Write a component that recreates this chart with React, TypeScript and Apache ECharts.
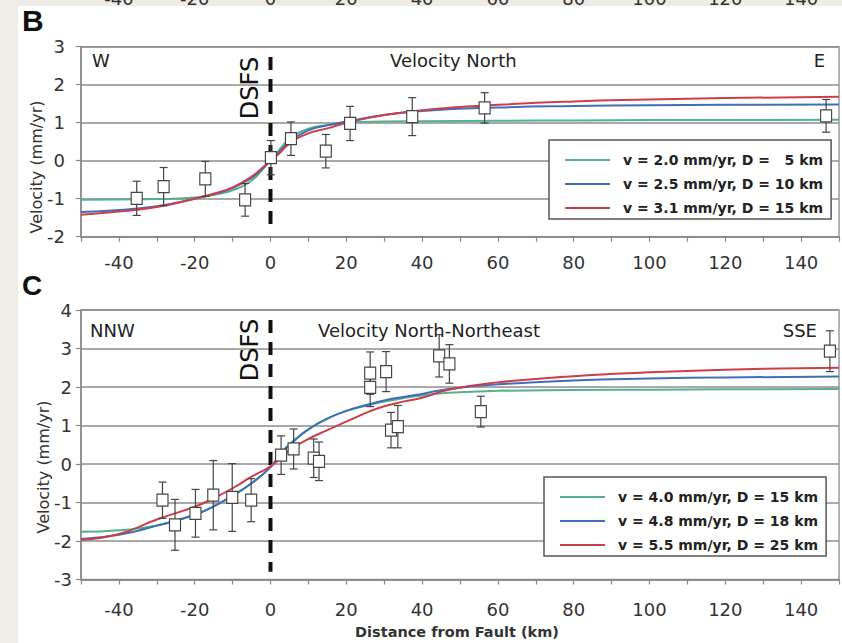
import React, { useEffect, useRef } from "react";
import * as echarts from "echarts";

// ---------- Panel B : Velocity North ----------
const bCurveX = [-50, -40, -30, -20, -15, -10, -5, -2, 0, 2, 5, 10, 15, 20, 30, 40, 60, 80, 100, 120, 150];
const bGreen = [-1.03, -1.02, -1.01, -0.97, -0.9, -0.78, -0.52, -0.22, 0.02, 0.25, 0.57, 0.84, 0.94, 1.0, 1.03, 1.04, 1.05, 1.06, 1.07, 1.07, 1.08];
const bBlue = [-1.35, -1.3, -1.2, -1.0, -0.88, -0.72, -0.45, -0.2, 0.0, 0.2, 0.5, 0.8, 0.93, 1.03, 1.2, 1.31, 1.4, 1.44, 1.46, 1.47, 1.48];
const bRed = [-1.42, -1.34, -1.22, -1.0, -0.87, -0.7, -0.42, -0.17, 0.0, 0.16, 0.45, 0.72, 0.85, 1.0, 1.2, 1.33, 1.47, 1.56, 1.61, 1.65, 1.68];
const bNames = ["v = 2.0 mm/yr, D =   5 km", "v = 2.5 mm/yr, D = 10 km", "v = 3.1 mm/yr, D = 15 km"];

const bObsX = [-35.3, -28.2, -17.2, -6.7, 0.1, 5.4, 14.6, 21.0, 37.4, 56.5, 146.6];
const bObsV = [-0.99, -0.68, -0.48, -1.03, 0.08, 0.58, 0.25, 0.98, 1.16, 1.39, 1.18];
const bObsErr = [0.45, 0.5, 0.46, 0.43, 0.45, 0.44, 0.44, 0.45, 0.5, 0.4, 0.43];
const bFaultSpan = [2.73, -1.9];

// ---------- Panel C : Velocity North-Northeast ----------
const cCurveX = [-50, -40, -30, -20, -15, -10, -5, 0, 3, 6, 10, 15, 20, 26, 30, 35, 40, 47, 60, 80, 100, 120, 150];
const cGreen = [-1.76, -1.72, -1.6, -1.32, -1.1, -0.82, -0.5, -0.08, 0.32, 0.6, 0.9, 1.18, 1.38, 1.53, 1.62, 1.71, 1.78, 1.85, 1.9, 1.92, 1.93, 1.94, 1.95];
const cBlue = [-1.95, -1.84, -1.6, -1.32, -1.1, -0.82, -0.5, -0.08, 0.3, 0.58, 0.9, 1.18, 1.38, 1.55, 1.65, 1.74, 1.82, 1.95, 2.07, 2.17, 2.22, 2.25, 2.27];
const cRed = [-1.97, -1.82, -1.44, -1.11, -0.89, -0.63, -0.33, -0.06, 0.19, 0.42, 0.65, 0.88, 1.1, 1.36, 1.5, 1.62, 1.72, 1.93, 2.12, 2.28, 2.38, 2.45, 2.5];
const cNames = ["v = 4.0 mm/yr, D = 15 km", "v = 4.8 mm/yr, D = 18 km", "v = 5.5 mm/yr, D = 25 km"];

const cObsX = [-28.5, -25.2, -19.8, -15.1, -10.1, -5.1, 2.8, 6.1, 11.4, 12.8, 26.3, 26.3, 30.5, 31.8, 33.6, 44.5, 47.2, 55.5, 147.6];
const cObsV = [-0.94, -1.58, -1.28, -0.81, -0.87, -0.94, 0.23, 0.39, 0.15, 0.07, 2.36, 1.99, 2.4, 0.88, 0.97, 2.81, 2.6, 1.36, 2.93];
const cObsErr = [0.47, 0.66, 0.62, 0.9, 0.88, 0.56, 0.5, 0.52, 0.5, 0.5, 0.55, 0.5, 0.52, 0.46, 0.55, 0.55, 0.5, 0.4, 0.53];
const cFaultSpan = [3.74, -2.8];

const faultX = 0;
const xMin = -50;
const xMax = 150;
const xStep = 10;
const xLabelStep = 20;

const GREEN = "#55b08c";
const BLUE = "#3f6fb8";
const RED = "#cc3f4a";
const FONT = "DejaVu Sans";

const pairs = (xs: number[], ys: number[]) => xs.map((x, i) => [x, ys[i]]);
const triples = (xs: number[], ys: number[], es: number[]) => xs.map((x, i) => [x, ys[i], es[i]]);

const errRender = (_params: any, api: any) => {
  const x = api.value(0);
  const y = api.value(1);
  const e = api.value(2);
  const top = api.coord([x, y + e]);
  const bot = api.coord([x, y - e]);
  const cap = 4;
  const style = { stroke: "#444", lineWidth: 1.2 };
  return {
    type: "group",
    children: [
      { type: "line", shape: { x1: top[0], y1: top[1], x2: bot[0], y2: bot[1] }, style },
      { type: "line", shape: { x1: top[0] - cap, y1: top[1], x2: top[0] + cap, y2: top[1] }, style },
      { type: "line", shape: { x1: bot[0] - cap, y1: bot[1], x2: bot[0] + cap, y2: bot[1] }, style },
    ],
  };
};

const xLabelFmt = (v: number) => (v % xLabelStep === 0 && v > xMin && v < xMax ? String(v) : "");

const makeX = (gridIndex: number, margin: number, showLine = true) => ({
  type: "value",
  gridIndex,
  min: xMin,
  max: xMax,
  interval: xStep,
  axisLine: { show: showLine, onZero: false, lineStyle: { color: "#888", width: 1.5 } },
  axisTick: { show: showLine, length: 5, lineStyle: { color: "#888", width: 1.2 } },
  splitLine: { show: false },
  axisLabel: { formatter: xLabelFmt, color: "#333", fontSize: 18, fontFamily: FONT, margin },
});

const makeY = (gridIndex: number, min: number, max: number, margin: number) => ({
  type: "value",
  gridIndex,
  min,
  max,
  interval: 1,
  axisLine: { show: true, onZero: false, lineStyle: { color: "#888", width: 1.5 } },
  axisTick: { show: true, length: 5, lineStyle: { color: "#888", width: 1.2 } },
  splitLine: { show: true, lineStyle: { color: "#8c8c8c", width: 1.5 } },
  axisLabel: { color: "#333", fontSize: 18, fontFamily: FONT, margin },
});

const panelSeries = (
  axisIndex: number,
  curveX: number[],
  curves: number[][],
  names: string[],
  obsX: number[],
  obsV: number[],
  obsErr: number[],
  span: number[]
) => {
  const colors = [GREEN, BLUE, RED];
  return [
    {
      type: "line",
      name: "DSFS" + axisIndex,
      xAxisIndex: axisIndex,
      yAxisIndex: axisIndex,
      data: span.map((v) => [faultX, v]),
      showSymbol: false,
      lineStyle: { color: "#111", width: 4, type: [13, 9] },
      silent: true,
      z: 2,
    },
    ...curves.map((ys, i) => ({
      type: "line",
      name: names[i],
      xAxisIndex: axisIndex,
      yAxisIndex: axisIndex,
      data: pairs(curveX, ys),
      smooth: true,
      showSymbol: false,
      lineStyle: { color: colors[i], width: 2 },
      itemStyle: { color: colors[i] },
      z: 3,
    })),
    {
      type: "custom",
      name: "err" + axisIndex,
      xAxisIndex: axisIndex,
      yAxisIndex: axisIndex,
      data: triples(obsX, obsV, obsErr),
      encode: { x: 0, y: 1 },
      renderItem: errRender,
      z: 4,
    },
    {
      type: "scatter",
      name: "obs" + axisIndex,
      xAxisIndex: axisIndex,
      yAxisIndex: axisIndex,
      data: pairs(obsX, obsV),
      symbol: "rect",
      symbolSize: [11, 12],
      itemStyle: { color: "#fff", borderColor: "#444", borderWidth: 1.2, opacity: 1 },
      z: 5,
    },
  ];
};

const legendOf = (names: string[], left: number, top: number) => ({
  data: names,
  orient: "vertical",
  left,
  top,
  icon: "rect",
  itemWidth: 45,
  itemHeight: 2,
  itemGap: 10,
  padding: [13, 8, 4, 16],
  backgroundColor: "#fff",
  borderColor: "#555",
  borderWidth: 1.5,
  borderRadius: 0,
  selectedMode: false,
  textStyle: { color: "#222", fontSize: 14, fontWeight: "bold", fontFamily: FONT, padding: [0, 0, 0, 8] },
});

const txt = (text: string, x: number, y: number, opts: any = {}) => ({
  type: "text",
  x,
  y,
  rotation: opts.rotation || 0,
  style: {
    text,
    fill: opts.fill || "#222",
    font: `${opts.weight || "normal"} ${opts.size || 18}px ${opts.family || FONT}`,
    textAlign: opts.align || "left",
    textVerticalAlign: "middle",
  },
  z: 10,
});

export default function App() {
  const ref = useRef<HTMLDivElement>(null);
  useEffect(() => {
    const chart = echarts.init(ref.current!, null, { renderer: "svg" });
    const option: any = {
      animation: false,
      backgroundColor: "transparent",
      grid: [
        { left: 81, width: 760, top: 46.7, height: 190, show: true, borderColor: "#999", borderWidth: 1.5 },
        { left: 81, width: 760, top: 310, height: 269.5, show: true, borderColor: "#999", borderWidth: 1.5 },
        { left: 81, width: 760, top: -40, height: 10, show: false },
      ],
      xAxis: [makeX(0, 17), makeX(1, 21), makeX(2, 17, false)],
      yAxis: [makeY(0, -2, 3, 16), makeY(1, -3, 4, 9), { type: "value", gridIndex: 2, min: 0, max: 1, show: false }],
      legend: [legendOf(bNames, 549, 140), legendOf(cNames, 544, 477)],
      series: [
        ...panelSeries(0, bCurveX, [bGreen, bBlue, bRed], bNames, bObsX, bObsV, bObsErr, bFaultSpan),
        ...panelSeries(1, cCurveX, [cGreen, cBlue, cRed], cNames, cObsX, cObsV, cObsErr, cFaultSpan),
      ],
      graphic: [
        txt("B", 22, 20, { size: 30, weight: "bold", family: "Liberation Sans", fill: "#111" }),
        txt("C", 22, 285, { size: 28, weight: "bold", family: "Liberation Sans", fill: "#111" }),
        txt("W", 92, 60),
        txt("Velocity North", 390, 60),
        txt("E", 825, 60, { align: "right" }),
        txt("DSFS", 250, 88, { size: 24, align: "center", rotation: Math.PI / 2, fill: "#111" }),
        txt("NNW", 90, 330),
        txt("Velocity North-Northeast", 318, 330),
        txt("SSE", 817, 330, { align: "right" }),
        txt("DSFS", 250, 350, { size: 24, align: "center", rotation: Math.PI / 2, fill: "#111" }),
        txt("Velocity (mm/yr)", 36, 167, { size: 16, align: "center", rotation: Math.PI / 2, fill: "#333" }),
        txt("Velocity (mm/yr)", 43, 467, { size: 16, align: "center", rotation: Math.PI / 2, fill: "#333" }),
        txt("Distance from Fault (km)", 457, 632, { size: 14.5, weight: "bold", align: "center", fill: "#333" }),
      ],
    };
    chart.setOption(option);
    return () => chart.dispose();
  }, []);
  return (
    <div style={{ position: "fixed", left: 0, top: 0, width: 842, height: 643, background: "#eeece4", overflow: "hidden" }}>
      <div style={{ position: "absolute", left: 18, top: 6, right: 0, bottom: 0, background: "#fff" }} />
      <div ref={ref} style={{ position: "absolute", left: 0, top: 0, width: 842, height: 643 }} />
    </div>
  );
}
